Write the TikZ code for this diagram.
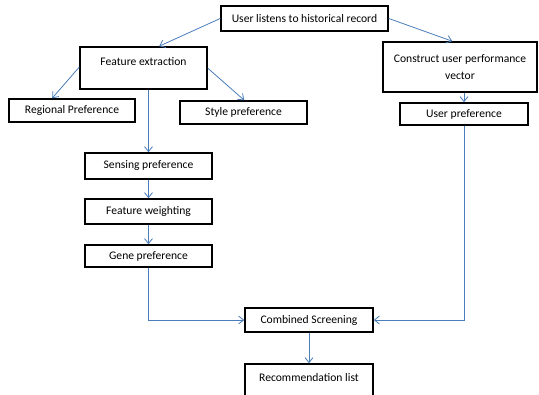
\documentclass[tikz,border=0pt]{standalone}
\usepackage{fontspec}
\setmainfont{Carlito}
\usetikzlibrary{arrows.meta,positioning,calc}
\definecolor{linkblue}{HTML}{4A7EBB}
\tikzset{
  box/.style={draw=black, line width=1.6pt, fill=white, inner sep=0pt, align=center,
              font=\fontsize{11.6}{17}\selectfont},
  link/.style={draw=linkblue, line width=0.8pt, -{Straight Barb[length=5pt,width=8pt]}},
  boxtext/.style={inner sep=0pt, font=\fontsize{11.6}{17}\selectfont}
}
\begin{document}
\begin{tikzpicture}[x=1pt, y=-1pt]
  \clip (0,0) rectangle (539,395);
  \useasboundingbox (0,0) rectangle (539,395);

  % top row
  \node[box, minimum width=167pt, minimum height=25pt] (ul) at (304.5,18.5) {User listens to historical record};
  \node[box, minimum width=127pt, minimum height=42pt] (fe) at (143.5,68) {};
  \node[boxtext, anchor=center] (fet) at (143.5,62) {Feature extraction};
  \node[box, minimum width=154pt, minimum height=50pt] (cv) at (460,67) {Construct user performance\\vector};

  % preferences
  \node[box, minimum width=126pt, minimum height=23pt] (rp) at (72,110.5) {Regional Preference};
  \node[box, minimum width=127pt, minimum height=23pt] (sp) at (243.5,112.5) {Style preference};
  \node[box, minimum width=128pt, minimum height=22pt] (up) at (464,114) {User preference};

  % left chain
  \node[box, minimum width=127pt, minimum height=26pt] (sn) at (148.5,166) {Sensing preference};
  \node[box, minimum width=127pt, minimum height=25pt] (fw) at (148.5,211.5) {Feature weighting};
  \node[box, minimum width=127pt, minimum height=22pt] (gp) at (148.5,256) {Gene preference};

  % bottom
  \node[box, minimum width=128pt, minimum height=24pt] (cs) at (309,320) {Combined Screening};
  \node[box, minimum width=128pt, minimum height=46pt] (rl) at (309,387) {};
  \node[boxtext] (rlt) at (309,378) {Recommendation list};

  % connectors
  \draw[link] (ul.west) -- ($(fe.north west)+(80,0)$);
  \draw[link] (ul.east) -- ($(cv.north west)+(70,0)$);
  \draw[link] ($(fe.north west)+(0,21)$) -- ($(rp.north west)+(44,0)$);
  \draw[link] ($(fe.north east)+(0,22)$) -- ($(sp.north west)+(65,0)$);
  \draw[link] (fe.south -| sn.north) -- (sn.north);
  \draw[link] (sn) -- (fw);
  \draw[link] (fw) -- (gp);
  \draw[link] (cv.south -| up.north) -- (up.north);
  \draw[link] (gp.south) |- (cs.west);
  \draw[link] (up.south) |- (cs.east);
  \draw[link] (cs) -- (rl);
\end{tikzpicture}
\end{document}
